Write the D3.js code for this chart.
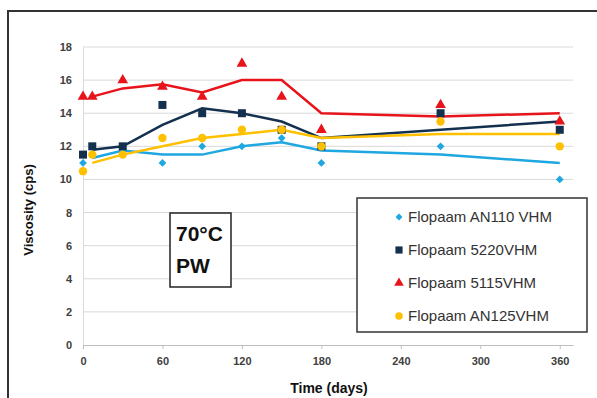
<!DOCTYPE html>
<html>
<head>
<meta charset="utf-8">
<script src="https://cdn.jsdelivr.net/npm/d3@7"></script>
<style>
  body { margin: 0; background: #fff; }
  svg { display: block; font-family: "Liberation Sans", Arial, sans-serif; }
</style>
</head>
<body>
<div id="graphic"></div>
<script>
// days of the measurements
var days = [0, 7, 30, 60, 90, 120, 150, 180, 270, 360];
// days of the fitted lines
var lineDays = [7, 30, 60, 90, 120, 150, 180, 270, 360];

var names = ['Flopaam AN110 VHM', 'Flopaam 5220VHM', 'Flopaam 5115VHM', 'Flopaam AN125VHM'];
var colors = ['#1fa7e1', '#14304f', '#e8141b', '#ffc000'];
var shapes = ['diamond', 'square', 'triangle', 'circle'];

// measured viscosity (cps)
var pointsAN110 = [11, null, 11.75, 11, 12, 12, 12.5, 11, 12, 10];
var points5220 = [11.5, 12, 12, 14.5, 14, 14, 13, 12, 14, 13];
var points5115 = [15, 15, 16, 15.6, 15, 17, 15, 13, 14.5, 13.5];
var pointsAN125 = [10.5, 11.5, 11.5, 12.5, 12.5, 13, 13, 12, 13.5, 12];

// line values
var lineAN110 = [11.3, 11.75, 11.5, 11.5, 12, 12.25, 11.75, 11.5, 11];
var line5220 = [11.8, 12, 13.3, 14.3, 14, 13.5, 12.5, 13, 13.5];
var line5115 = [15, 15.5, 15.75, 15.25, 16, 16, 14, 13.8, 14];
var lineAN125 = [11, 11.5, 12, 12.5, 12.75, 13, 12.5, 12.75, 12.75];

var xTicks = [0, 60, 120, 180, 240, 300, 360];
var yTicks = [0, 2, 4, 6, 8, 10, 12, 14, 16, 18];

var allPoints = [pointsAN110, points5220, points5115, pointsAN125];
var allLines = [lineAN110, line5220, line5115, lineAN125];

var W = 597, H = 398;
var margin = {top: 47, right: 24, bottom: 53, left: 83},
    width = W - margin.left - margin.right,
    height = H - margin.top - margin.bottom;

var svg = d3.select('#graphic').append('svg')
    .attr('width', W)
    .attr('height', H);

// outer frame
svg.append('rect')
    .attr('x', 8).attr('y', 11)
    .attr('width', W).attr('height', H)
    .attr('fill', 'none')
    .attr('stroke', '#333')
    .attr('stroke-width', 2);

var g = svg.append('g')
    .attr('transform', 'translate(' + margin.left + ',' + margin.top + ')');

var x = d3.scaleLinear().domain([0, 370]).range([0, width]);
var y = d3.scaleLinear().domain([0, 18]).range([height, 0]);

// gridlines
g.append('g')
    .selectAll('line')
    .data(yTicks.filter(function(d) { return d > 0; }))
    .enter().append('line')
    .attr('x1', 0).attr('x2', width)
    .attr('y1', function(d) { return y(d); })
    .attr('y2', function(d) { return y(d); })
    .attr('stroke', '#d9d9d9')
    .attr('stroke-width', 1);

// y axis
var yAxis = g.append('g')
    .call(d3.axisLeft(y).tickValues(yTicks).tickSize(0).tickPadding(11));
yAxis.select('.domain').attr('stroke', '#d9d9d9');
yAxis.selectAll('text')
    .attr('fill', '#404040')
    .style('font-size', '11px')
    .style('font-weight', 'bold');

// x axis
var xAxis = g.append('g')
    .attr('transform', 'translate(0,' + height + ')')
    .call(d3.axisBottom(x).tickValues(xTicks).tickSize(4).tickPadding(8).tickSizeOuter(0));
xAxis.select('.domain').attr('stroke', '#bfbfbf');
xAxis.selectAll('line').attr('stroke', '#bfbfbf');
xAxis.selectAll('text')
    .attr('fill', '#404040')
    .style('font-size', '11px')
    .style('font-weight', 'bold');

// axis titles
svg.append('text')
    .attr('transform', 'translate(33,210) rotate(-90)')
    .attr('text-anchor', 'middle')
    .style('font-size', '13px')
    .style('font-weight', 'bold')
    .attr('fill', '#111')
    .text('Viscosity (cps)');

svg.append('text')
    .attr('x', 329).attr('y', 393)
    .attr('text-anchor', 'middle')
    .style('font-size', '14px')
    .style('font-weight', 'bold')
    .attr('fill', '#111')
    .text('Time (days)');

// lines
var line = d3.line()
    .x(function(d, i) { return x(lineDays[i]); })
    .y(function(d) { return y(d); });

allLines.forEach(function(vals, k) {
  g.append('path')
      .datum(vals)
      .attr('fill', 'none')
      .attr('stroke', colors[k])
      .attr('stroke-width', 2.5)
      .attr('d', line);
});

// diamond = square turned 45 degrees
function symbolFor(shape, size) {
  if (shape == 'diamond') {
    return 'rotate(45)';
  }
  var types = {square: d3.symbolSquare, triangle: d3.symbolTriangle, circle: d3.symbolCircle};
  return d3.symbol().type(types[shape]).size(size)();
}
var sizes = {diamond: 30, square: 64, triangle: 50, circle: 55};

function drawMarker(sel, shape, size) {
  if (shape == 'diamond') {
    sel.append('path')
        .attr('d', d3.symbol().type(d3.symbolSquare).size(size)())
        .attr('transform', 'rotate(45)');
  } else {
    sel.append('path').attr('d', symbolFor(shape, size));
  }
}

// markers
allPoints.forEach(function(vals, k) {
  var pts = g.append('g')
      .attr('fill', colors[k])
      .selectAll('g')
      .data(vals.map(function(v, i) { return {day: days[i], v: v}; })
        .filter(function(d) { return d.v != null; }))
      .enter().append('g')
      .attr('transform', function(d) { return 'translate(' + x(d.day) + ',' + y(d.v) + ')'; });
  drawMarker(pts, shapes[k], sizes[shapes[k]]);
});

// temperature box
svg.append('rect')
    .attr('x', 170).attr('y', 213)
    .attr('width', 61).attr('height', 74)
    .attr('fill', '#fff')
    .attr('stroke', '#222')
    .attr('stroke-width', 1.5);
svg.append('text')
    .attr('x', 176).attr('y', 241)
    .style('font-size', '21px')
    .style('font-weight', 'bold')
    .attr('fill', '#111')
    .text('70°C');
svg.append('text')
    .attr('x', 176).attr('y', 273)
    .style('font-size', '21px')
    .style('font-weight', 'bold')
    .attr('fill', '#111')
    .text('PW');

// legend
var legend = svg.append('g');
legend.append('rect')
    .attr('x', 357).attr('y', 198)
    .attr('width', 230).attr('height', 134)
    .attr('fill', '#fff')
    .attr('stroke', '#333')
    .attr('stroke-width', 1.5);

names.forEach(function(name, k) {
  var ly = 217 + k * 33;
  var mk = legend.append('g')
      .attr('fill', colors[k])
      .attr('transform', 'translate(399,' + ly + ')');
  drawMarker(mk, shapes[k], sizes[shapes[k]] * 0.8);
  legend.append('text')
      .attr('x', 408).attr('y', ly + 5)
      .style('font-size', '15px')
      .attr('fill', '#333')
      .text(name);
});
</script>
</body>
</html>
